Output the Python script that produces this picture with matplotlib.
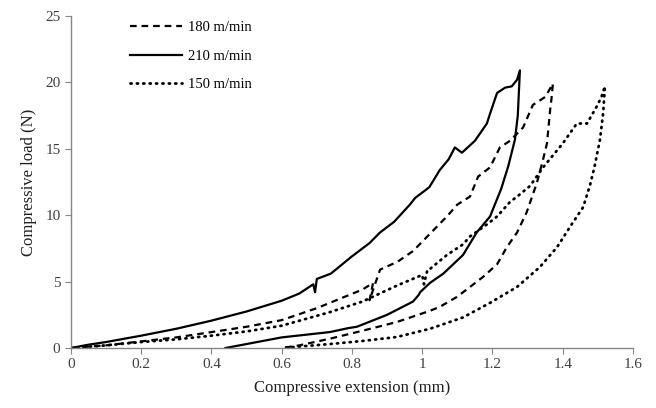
# hysterezia tlakoveho zatazenia pre tri rychlosti
import matplotlib.pyplot as plt

plt.rcParams['font.family'] = ['Liberation Serif', 'DejaVu Serif']

# 210 m/min - plna ciara (zatazenie a odlahcenie)
x_210 = [0, 0.05, 0.1, 0.2, 0.3, 0.4, 0.5, 0.6, 0.65, 0.69, 0.695, 0.70, 0.74, 0.80,
         0.85, 0.88, 0.92, 0.965, 0.98, 1.02, 1.05, 1.075, 1.093, 1.113, 1.15, 1.184,
         1.195, 1.213, 1.236, 1.255, 1.27, 1.278,
         1.272, 1.264, 1.245, 1.225, 1.193, 1.155, 1.116, 1.06, 1.022, 0.994, 0.99,
         0.974, 0.9, 0.814, 0.79, 0.737, 0.6, 0.5, 0.44]
y_210 = [0, 0.25, 0.45, 0.93, 1.45, 2.06, 2.75, 3.56, 4.1, 4.8, 4.2, 5.2, 5.6, 6.9,
         7.9, 8.7, 9.5, 10.8, 11.3, 12.1, 13.4, 14.2, 15.1, 14.7, 15.6, 16.9,
         17.8, 19.2, 19.6, 19.7, 20.2, 20.9,
         17.5, 15.7, 13.7, 12.0, 9.9, 8.7, 7.0, 5.6, 4.9, 4.2, 4.0,
         3.5, 2.5, 1.6, 1.5, 1.2, 0.8, 0.3, 0]

# 180 m/min - ciarkovana
x_180 = [0, 0.1, 0.2, 0.3, 0.4, 0.5, 0.6, 0.7, 0.737, 0.83, 0.86, 0.85, 0.88, 0.93,
         0.974, 1.07, 1.10, 1.136, 1.159, 1.193, 1.221, 1.25, 1.287, 1.315, 1.35, 1.372,
         1.368, 1.364, 1.355, 1.344, 1.326, 1.297, 1.27, 1.241, 1.213, 1.173, 1.136,
         1.099, 1.05, 1.022, 0.928, 0.83, 0.737, 0.65, 0.6]
y_180 = [0, 0.2, 0.5, 0.8, 1.2, 1.6, 2.1, 3.0, 3.4, 4.4, 4.9, 3.6, 5.9, 6.5,
         7.3, 9.9, 10.8, 11.4, 12.9, 13.6, 15.1, 15.6, 16.6, 18.3, 18.9, 19.9,
         18.8, 17.9, 15.4, 14.2, 12.4, 10.2, 8.7, 7.6, 6.3, 5.35, 4.6,
         3.85, 3.1, 2.8, 1.96, 1.3, 0.7, 0.2, 0]

# 150 m/min - bodkovana
x_150 = [0, 0.1, 0.2, 0.3, 0.4, 0.5, 0.6, 0.737, 0.83, 0.928, 1.0, 1.005, 1.015, 1.022,
         1.07, 1.116, 1.136, 1.184, 1.213, 1.25, 1.27, 1.307, 1.344, 1.40, 1.44, 1.469,
         1.497, 1.51, 1.52,
         1.515, 1.506, 1.49, 1.478, 1.458, 1.42, 1.384, 1.335, 1.27, 1.193, 1.116,
         1.022, 0.928, 0.83, 0.737, 0.6]
y_150 = [0, 0.2, 0.45, 0.65, 0.93, 1.25, 1.68, 2.7, 3.5, 4.7, 5.5, 4.8, 5.9, 5.95,
         7.0, 7.8, 8.4, 9.3, 9.9, 11.0, 11.4, 12.2, 13.6, 15.4, 16.9, 16.9,
         18.2, 18.9, 19.7,
         17.7, 15.7, 13.6, 12.3, 10.6, 9.1, 7.6, 6.1, 4.6, 3.4, 2.3,
         1.45, 0.83, 0.53, 0.3, 0]

x_ticks = [0, 0.2, 0.4, 0.6, 0.8, 1, 1.2, 1.4, 1.6]
x_tick_labels = ["0", "0.2", "0.4", "0.6", "0.8", "1", "1.2", "1.4", "1.6"]
y_ticks = [0, 5, 10, 15, 20, 25]

fig = plt.figure(figsize=(6.56, 4.08), dpi=100)
ax = fig.add_axes([0.108, 0.147, 0.857, 0.814])

ax.plot(x_180, y_180, color="black", lw=1.6, linestyle=(0, (3, 2.2)), label="180 m/min")
ax.plot(x_210, y_210, color="black", lw=1.6, linestyle="-", label="210 m/min")
ax.plot(x_150, y_150, color="black", lw=2.0, linestyle=(0, (0.4, 1.9)),
        dash_capstyle="round", label="150 m/min")

ax.set_xlim(0, 1.6)
ax.set_ylim(0, 25)
ax.set_xticks(x_ticks)
ax.set_xticklabels(x_tick_labels)
ax.set_yticks(y_ticks)

for s in ["top", "right"]:
    ax.spines[s].set_visible(False)
for s in ["left", "bottom"]:
    ax.spines[s].set_color("#868686")
    ax.spines[s].set_linewidth(1.0)
ax.tick_params(axis="both", direction="out", length=4, color="#868686",
               labelsize=11, labelcolor="#404040")

ax.set_xlabel("Compressive extension (mm)", fontsize=12, color="#202020", labelpad=6)
ax.set_ylabel("Compressive load (N)", fontsize=12, color="#202020", labelpad=6)

ax.legend(loc="upper left", bbox_to_anchor=(0.081, 1.024), frameon=False,
          fontsize=10.5, handlelength=3.6, handletextpad=0.4, labelspacing=1.05)

plt.savefig("out.png", dpi=100)
